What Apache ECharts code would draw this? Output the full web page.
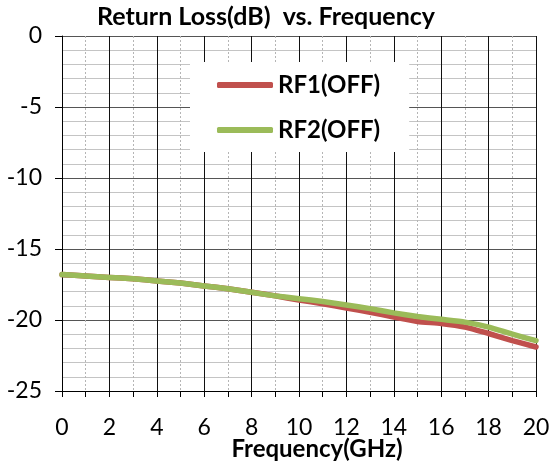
<!DOCTYPE html>
<html>
<head>
<meta charset="utf-8">
<script src="https://cdn.jsdelivr.net/npm/echarts@6/dist/echarts.min.js"></script>
<style>
html,body{margin:0;padding:0;background:#fff;}
#chart{width:556px;height:468px;}
</style>
</head>
<body>
<div id="chart"></div>
<script>
const freqs = [0,1,2,3,4,5,6,7,8,9,10,11,12,13,14,15,16,17,18,19,20];
const rf1Off = [-16.8,-16.9,-17.0,-17.1,-17.25,-17.4,-17.6,-17.8,-18.05,-18.3,-18.6,-18.85,-19.15,-19.45,-19.8,-20.1,-20.25,-20.5,-20.95,-21.45,-21.9];
const rf2Off = [-16.8,-16.9,-17.0,-17.1,-17.25,-17.4,-17.6,-17.8,-18.05,-18.3,-18.5,-18.7,-18.95,-19.2,-19.5,-19.75,-19.95,-20.15,-20.5,-21.0,-21.45];
const seriesNames = ['RF1(OFF)','RF2(OFF)'];
const titleText = 'Return Loss(dB)  vs. Frequency';
const xName = 'Frequency(GHz)';

const FONT = 'Lato';
const chart = echarts.init(document.getElementById('chart'), null, {renderer:'canvas'});
chart.setOption({
  animation:false,
  backgroundColor:'#fff',
  title:{text:titleText,left:97,top:4,padding:0,
    textStyle:{fontFamily:FONT,fontWeight:'bold',fontSize:25,color:'#000'}},
  grid:{left:62,right:20,top:36,bottom:77,containLabel:false,outerBoundsMode:'none'},
  legend:{
    show:true,orient:'vertical',left:190,top:62,
    backgroundColor:'#fff',padding:[10,29,9,27],itemGap:19,
    itemWidth:56,itemHeight:6,icon:'roundRect',
    textStyle:{fontFamily:FONT,fontWeight:'bold',fontSize:24,color:'#000',lineHeight:26},
    data:seriesNames,z:10
  },
  xAxis:{
    type:'value',min:0,max:20,interval:2,
    name:xName,nameLocation:'middle',nameGap:46,nameMoveOverlap:false,
    nameTextStyle:{fontFamily:FONT,fontWeight:'bold',fontSize:24,color:'#000',padding:[0,0,0,36]},
    axisLine:{show:true,onZero:false,lineStyle:{color:'#000',width:1}},
    axisTick:{show:true,inside:false,length:6,lineStyle:{color:'#000'}},
    minorTick:{show:true,splitNumber:2,length:6,lineStyle:{color:'#000'}},
    axisLabel:{fontFamily:FONT,fontSize:23,color:'#000',margin:25},
    splitLine:{show:true,lineStyle:{color:'#111',width:1}},
    minorSplitLine:{show:true,lineStyle:{color:'#b5b5b5',width:1,type:[2,2]}}
  },
  yAxis:{
    type:'value',min:-25,max:0,interval:5,
    axisLine:{show:true,onZero:false,lineStyle:{color:'#000',width:1}},
    axisTick:{show:true,inside:false,length:7,lineStyle:{color:'#000'}},
    minorTick:{show:false,splitNumber:5},
    axisLabel:{fontFamily:FONT,fontSize:23,color:'#000',margin:20},
    splitLine:{show:true,lineStyle:{color:'#555',width:1}},
    minorSplitLine:{show:true,lineStyle:{color:'#c4c4c4',width:1}}
  },
  series:[
    {name:seriesNames[0],type:'line',data:freqs.map((f,i)=>[f,rf1Off[i]]),
     showSymbol:false,symbol:'none',smooth:0.2,color:'#C0504D',
     lineStyle:{color:'#C0504D',width:5.5,cap:'round',join:'round'},z:3},
    {name:seriesNames[1],type:'line',data:freqs.map((f,i)=>[f,rf2Off[i]]),
     showSymbol:false,symbol:'none',smooth:0.2,color:'#9BBB59',
     lineStyle:{color:'#9BBB59',width:5.5,cap:'round',join:'round'},z:4}
  ]
});
</script>
</body>
</html>
